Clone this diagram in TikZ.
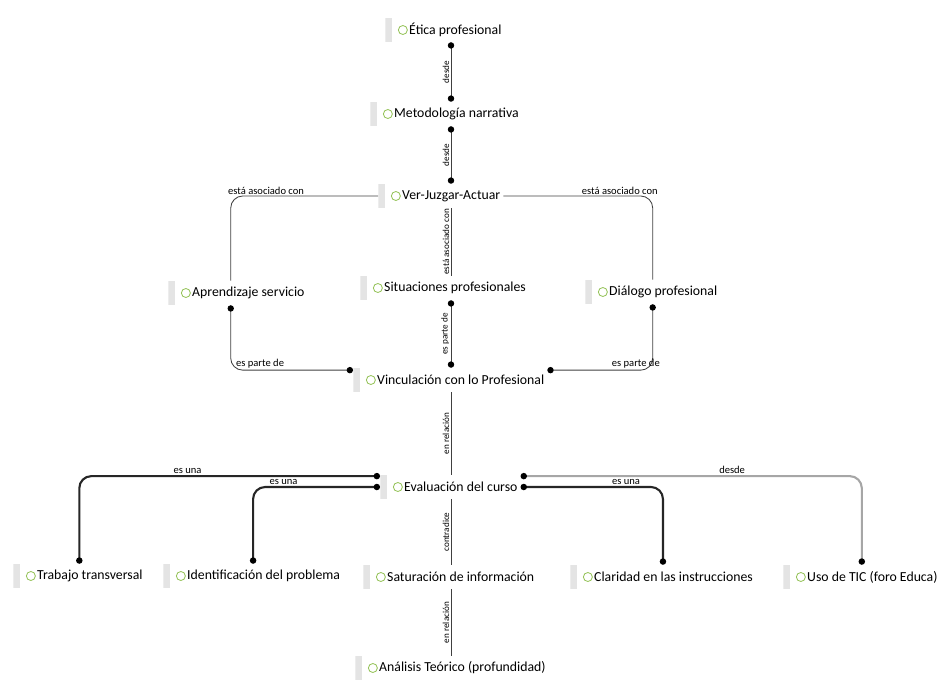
\documentclass[tikz,border=0pt]{standalone}
\usepackage{fontspec}
\setmainfont{Carlito}
\usetikzlibrary{arrows.meta}
\definecolor{icongreen}{RGB}{150,195,90}
\definecolor{bargray}{RGB}{228,228,228}

\begin{document}
\begin{tikzpicture}[x=0.025cm, y=-0.025cm,
	concept/.style={anchor=west, inner xsep=2pt, inner ysep=0pt, minimum height=0.6cm,
		font=\fontsize{9.8}{11}\selectfont, execute at begin node={\hspace*{15pt}},
		path picture={
			\fill[bargray] (path picture bounding box.south west) rectangle ([xshift=4.5pt]path picture bounding box.north west);
			\draw[icongreen, line width=0.6pt] ([xshift=12.5pt]path picture bounding box.west) circle (3.2pt);}},
	link/.style={draw=black!75, line width=0.6pt},
	dots/.style={{Circle[length=4.5pt, width=4.5pt, color=black]}-{Circle[length=4.5pt, width=4.5pt, color=black]}},
	heavy/.style={draw=black!85, line width=1.5pt},
	pale/.style={draw=black!35, line width=1.5pt},
	lab/.style={font=\fontsize{7.5}{8}\selectfont, inner sep=1pt},
	vlab/.style={font=\fontsize{6.5}{7}\selectfont, inner sep=1pt, midway, rotate=90, above},
	corner/.style={rounded corners=0.3cm}]
\useasboundingbox (0,0) rectangle (945,681);
\node[concept] (etica) at (385,30) {Ética profesional};
\node[concept] (metodo) at (370,114) {Metodología narrativa};
\node[concept] (vja) at (378,196) {Ver-Juzgar-Actuar};
\node[concept] (aprend) at (168,293) {Aprendizaje servicio};
\node[concept] (situac) at (360,288) {Situaciones profesionales};
\node[concept] (dialogo) at (585,292) {Diálogo profesional};
\node[concept] (vincul) at (353,380) {Vinculación con lo Profesional};
\node[concept] (evalua) at (380,487) {Evaluación del curso};
\node[concept] (trabajo) at (13,576) {Trabajo transversal};
\node[concept] (identif) at (163,576) {Identificación del problema};
\node[concept] (satura) at (363,577) {Saturación de información};
\node[concept] (claridad) at (570,577) {Claridad en las instrucciones};
\node[concept] (usotic) at (783,577) {Uso de TIC (foro Educa)};
\node[concept] (analisis) at (355,668) {Análisis Teórico (profundidad)};
\coordinate (axis) at (451,0);

\draw[link, dots] (etica.south -| axis) -- node[vlab] {desde} (metodo.north -| axis);
\draw[link, dots] (metodo.south -| axis) -- node[vlab] {desde} (vja.north -| axis);
\draw[link] (vja.south -| axis) -- node[vlab] {está asociado con} (situac.north -| axis);
\draw[link, dots] (situac.south -| axis) -- node[vlab] {es parte de} (vincul.north -| axis);
\draw[link] (vincul.south -| axis) -- node[vlab] {en relación} (evalua.north -| axis);
\draw[link] (evalua.south -| axis) -- node[vlab] {contradice} (satura.north -| axis);
\draw[link] (satura.south -| axis) -- node[vlab] {en relación} (analisis.north -| axis);

\draw[link, corner] (vja.west) -| node[lab, pos=.38, above] {está asociado con} ([xshift=-5pt]aprend.north);
\draw[link, corner] (vja.east) -| node[lab, pos=.39, above] {está asociado con} (dialogo.north);
\draw[link, dots, corner] ([xshift=-5pt]aprend.south) |- node[lab, pos=.62, above] {es parte de} ([yshift=7pt]vincul.west);
\draw[link, dots, corner] (dialogo.south) |- node[lab, pos=.58, above] {es parte de} ([yshift=7pt]vincul.east);

\draw[heavy, dots, corner] ([yshift=-1pt]evalua.north west) -| node[lab, pos=.32, above] {es una} (trabajo.north);
\draw[heavy, dots, corner] (evalua.west) -| node[lab, pos=.38, above] {es una} (identif.north);
\draw[heavy, dots, corner] (evalua.east) -| node[lab, pos=.37, above] {es una} (claridad.north);
\draw[pale, dots, corner] ([yshift=-1pt]evalua.north east) -| node[lab, pos=.31, above] {desde} (usotic.north);
\end{tikzpicture}
\end{document}
